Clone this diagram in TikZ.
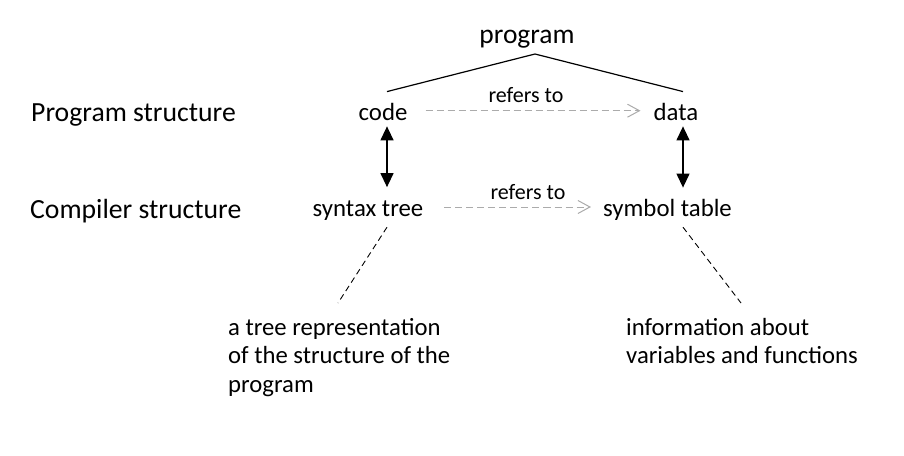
\documentclass[tikz,border=0pt]{standalone}
\usepackage{fontspec}
\setmainfont{Carlito}
\usetikzlibrary{arrows.meta}
\begin{document}
\begin{tikzpicture}[x=1pt,y=-1pt,
  lbl/.style={inner sep=0pt,anchor=base,font=\fontsize{24.8}{29}\selectfont},
  side/.style={inner sep=0pt,anchor=base west,font=\fontsize{27.7}{32}\selectfont},
  ref/.style={inner sep=0pt,anchor=base,font=\fontsize{22}{26}\selectfont},
  note/.style={inner sep=0pt,anchor=base west,align=left,font=\fontsize{24.7}{28.5}\selectfont},
  tree/.style={line width=1.2pt},
  dbl/.style={line width=1.3pt,{Triangle[width=13pt,length=14pt]}-{Triangle[width=13pt,length=14pt]}},
  refarrow/.style={draw=black!33,line width=1pt,dash pattern=on 7pt off 4pt,-{Straight Barb[length=12pt,width=13pt,line width=1pt]}},
  notelink/.style={line width=0.9pt,dash pattern=on 6pt off 4pt}]
\useasboundingbox (0,0) rectangle (904,455);
\node[lbl,font=\fontsize{27.5}{32}\selectfont] (program) at (527,43) {program};
\node[side] (ps) at (31,121.5) {Program structure};
\node[side] (cs) at (30,218) {Compiler structure};
\node[lbl] (code) at (383,120) {code};
\node[lbl] (data) at (676,120) {data};
\node[lbl] (syntax) at (368,216) {syntax tree};
\node[lbl] (symbol) at (667.5,216) {symbol table};
\node[ref] (ref1) at (526,102) {refers to};
\node[ref] (ref2) at (528,199) {refers to};
\node[note] (n1) at (228,392) {a tree representation\\of the structure of the\\program};
\node[note] (n2) at (626,363.5) {information about\\variables and functions};
\coordinate (apex) at (535,54);
\coordinate (cL) at (387,0);
\coordinate (cR) at (683,0);
% tree lines
\draw[tree] (apex) -- ([yshift=11pt]code.north -| cL);
\draw[tree] (apex) -- ([yshift=11pt]data.north -| cR);
% vertical double arrows
\draw[dbl] ([yshift=-6pt]code.south -| cL) -- ([yshift=13pt]syntax.north -| cL);
\draw[dbl] ([yshift=-6pt]data.south -| cR) -- ([yshift=11pt]symbol.north -| cR);
% refers to arrows
\draw[refarrow] ([xshift=18pt,yshift=9.3pt]code.base east) -- ([xshift=-13pt,yshift=9.3pt]data.base west);
\draw[refarrow] ([xshift=21pt,yshift=9pt]syntax.base east) -- ([xshift=-12pt,yshift=9pt]symbol.base west);
% note links
\draw[notelink] ([yshift=-7pt]syntax.south -| cL) -- ([xshift=110pt,yshift=89pt]n1.base west);
\draw[notelink] ([yshift=-7pt]symbol.south -| cR) -- ([xshift=115pt,yshift=60.5pt]n2.base west);
\end{tikzpicture}
\end{document}
